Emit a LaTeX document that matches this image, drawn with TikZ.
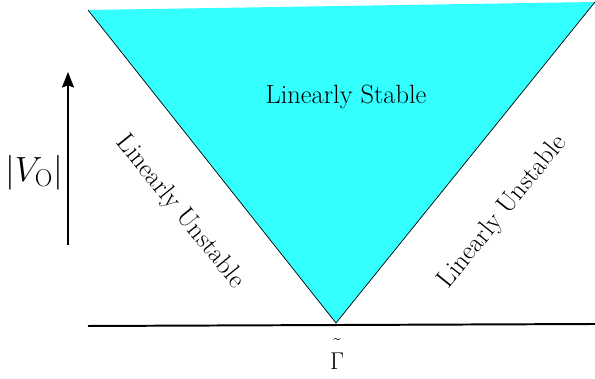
\documentclass[tikz,border=0pt]{standalone}
\usepackage{amsmath,amssymb}
\usepackage{tikz}
\usetikzlibrary{arrows.meta}
\usepackage{xcolor}
\definecolor{stablecyan}{RGB}{51,255,255}

\begin{document}
\begin{tikzpicture}[x=0.025cm,y=-0.025cm,font=\fontsize{18.8}{22}\selectfont]
\useasboundingbox (0,0) rectangle (595,379);
\coordinate (tl) at (88,10);
\coordinate (tr) at (595,2);
\coordinate (apex) at (336,323);
\coordinate (axl) at (88,326);
\coordinate (axr) at (595,324);
\coordinate (arrlow) at (68,245);
\coordinate (arrtop) at (68,72);
\fill[stablecyan] (tl) -- (tr) -- (apex) -- cycle;
\draw[line width=0.5pt] (tl) -- (apex) -- (tr);
\draw[line width=1.4pt] (axl) -- (axr);
\draw[line width=1.3pt,-{Stealth[length=11pt,width=8.5pt,inset=1.5pt]}] (arrlow) -- (arrtop);
\node (stable) at (346,97){Linearly Stable};
\node[rotate=-51] (unstl) at (180,212){Linearly Unstable};
\node[rotate=51] (unstr) at (503,212){Linearly Unstable};
\node[font=\fontsize{23}{27}\selectfont] (vnought) at (34,173){$|V_{\mathrm{O}}|$};
\node[font=\fontsize{17}{20}\selectfont,anchor=base,inner sep=0pt] (gam) at (337,370){$\tilde{\smash{\Gamma}\rule{0pt}{1.1em}}$};
\end{tikzpicture}
\end{document}
